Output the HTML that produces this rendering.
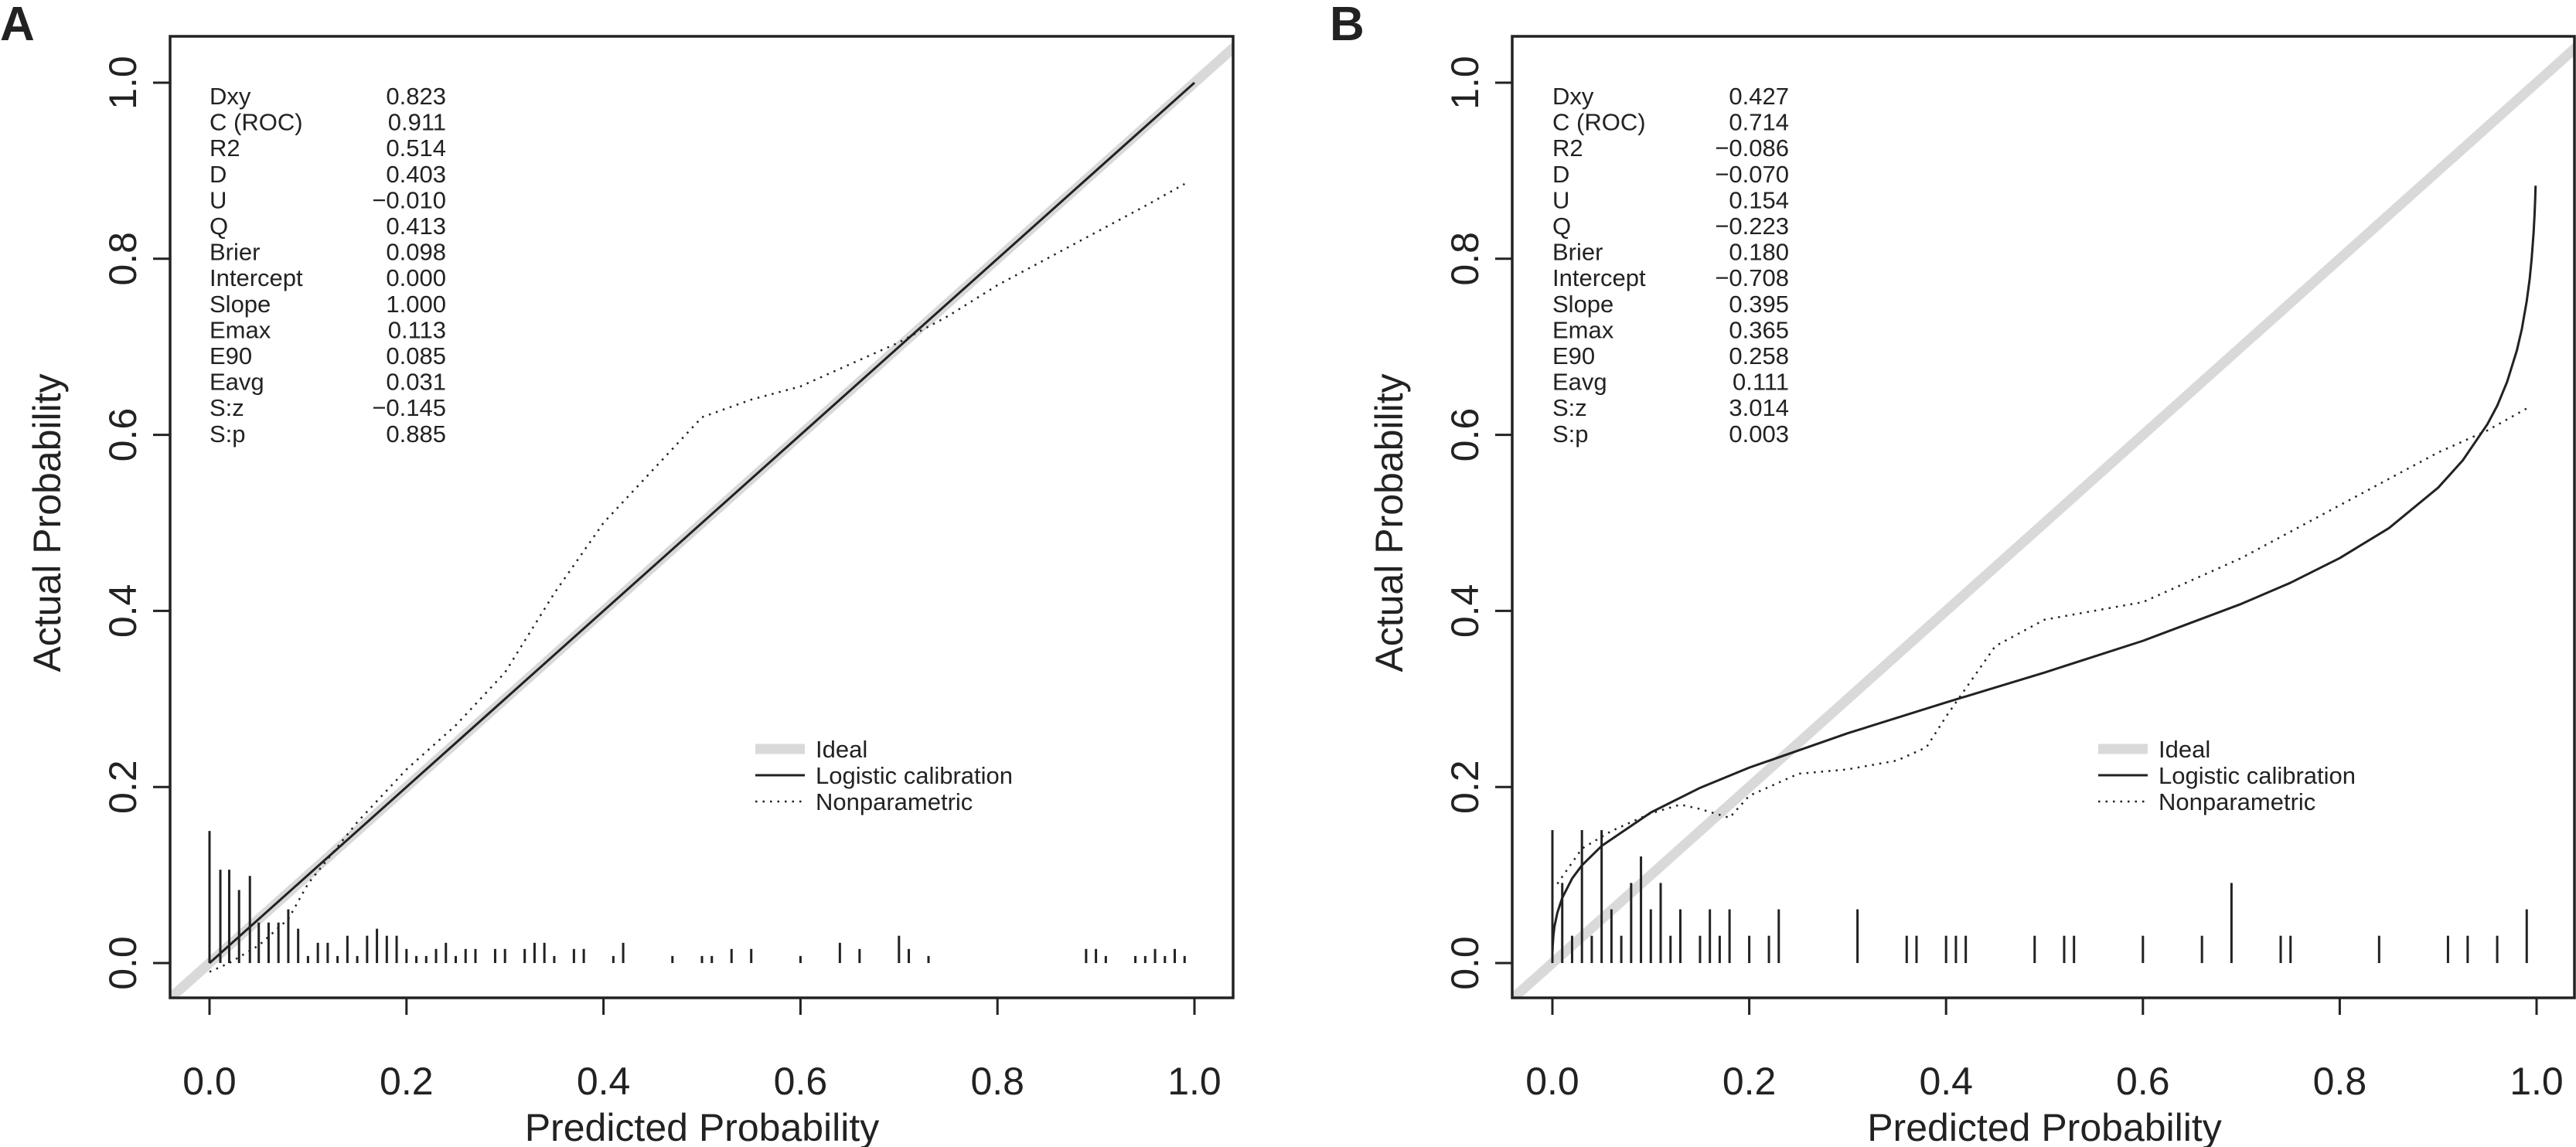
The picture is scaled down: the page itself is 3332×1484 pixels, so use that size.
<!DOCTYPE html>
<html><head><meta charset="utf-8"><style>
html,body{margin:0;padding:0;background:#fff;}
svg{display:block;font-family:"Liberation Sans",Arial,sans-serif;}
</style></head><body>
<svg id="chart" width="3332" height="1484" viewBox="0 0 3332 1484" xmlns="http://www.w3.org/2000/svg"></svg>
<script>
// ---------- Data ----------
const tickValues = [0, 0.2, 0.4, 0.6, 0.8, 1.0];
const tickLabels = ["0.0", "0.2", "0.4", "0.6", "0.8", "1.0"];
const statNames = ["Dxy","C (ROC)","R2","D","U","Q","Brier","Intercept","Slope","Emax","E90","Eavg","S:z","S:p"];
const statsA = ["0.823","0.911","0.514","0.403","\u22120.010","0.413","0.098","0.000","1.000","0.113","0.085","0.031","\u22120.145","0.885"];
const statsB = ["0.427","0.714","\u22120.086","\u22120.070","0.154","\u22120.223","0.180","\u22120.708","0.395","0.365","0.258","0.111","3.014","0.003"];
const legendLabels = ["Ideal","Logistic calibration","Nonparametric"];

const logisticAx = [0, 1];
const logisticAy = [0, 1];
const nonparAx = [0.0,0.02,0.05,0.08,0.1,0.15,0.2,0.25,0.3,0.35,0.4,0.45,0.5,0.55,0.6,0.65,0.7,0.75,0.8,0.85,0.9,0.95,0.99];
const nonparAy = [-0.01,0.0,0.02,0.05,0.09,0.16,0.22,0.27,0.33,0.42,0.5,0.56,0.62,0.64,0.655,0.68,0.705,0.735,0.77,0.80,0.83,0.86,0.885];
const spikeAx = [0,0.011,0.02,0.03,0.041,0.05,0.06,0.07,0.08,0.09,0.10,0.11,0.12,0.13,0.14,0.15,0.16,0.17,0.18,0.19,0.20,0.21,0.22,0.23,0.24,0.25,0.26,0.27,0.29,0.30,0.32,0.33,0.34,0.35,0.37,0.38,0.41,0.42,0.47,0.50,0.51,0.53,0.55,0.60,0.64,0.66,0.70,0.71,0.73,0.89,0.90,0.91,0.94,0.95,0.96,0.97,0.98,0.99];
const spikeAh = [0.15,0.106,0.106,0.083,0.099,0.046,0.046,0.046,0.061,0.039,0.008,0.023,0.023,0.008,0.031,0.008,0.031,0.039,0.031,0.031,0.016,0.008,0.008,0.016,0.023,0.008,0.016,0.016,0.016,0.016,0.016,0.023,0.023,0.008,0.016,0.016,0.008,0.023,0.008,0.008,0.008,0.016,0.016,0.008,0.023,0.016,0.031,0.016,0.008,0.016,0.016,0.008,0.008,0.008,0.016,0.008,0.016,0.008];

const logisticBx = [0.0001,0.0003,0.001,0.002,0.005,0.01,0.02,0.03,0.05,0.1,0.15,0.2,0.3,0.4,0.5,0.6,0.7,0.75,0.8,0.85,0.9,0.925,0.95,0.96,0.97,0.98,0.985,0.99,0.993,0.995,0.997,0.998,0.9985,0.999];
const logisticBy = [0.0128,0.0196,0.031,0.041,0.057,0.074,0.096,0.111,0.133,0.171,0.199,0.222,0.261,0.296,0.330,0.366,0.408,0.432,0.460,0.494,0.540,0.571,0.612,0.633,0.660,0.696,0.720,0.752,0.777,0.800,0.830,0.851,0.865,0.883];
const nonparBx = [0.005,0.03,0.06,0.1,0.13,0.15,0.18,0.2,0.25,0.3,0.35,0.38,0.4,0.45,0.5,0.55,0.6,0.65,0.7,0.75,0.8,0.85,0.9,0.95,0.99];
const nonparBy = [0.09,0.13,0.15,0.17,0.18,0.175,0.165,0.19,0.215,0.22,0.23,0.245,0.28,0.36,0.39,0.40,0.41,0.435,0.46,0.49,0.52,0.55,0.58,0.605,0.63];
const spikeBx = [0,0.01,0.02,0.03,0.04,0.05,0.06,0.07,0.08,0.09,0.10,0.11,0.12,0.13,0.15,0.16,0.17,0.18,0.20,0.22,0.23,0.31,0.36,0.37,0.40,0.41,0.42,0.49,0.52,0.53,0.60,0.66,0.69,0.74,0.75,0.84,0.91,0.93,0.96,0.99];
const spikeBh = [0.151,0.091,0.031,0.151,0.031,0.151,0.061,0.031,0.091,0.121,0.061,0.091,0.031,0.061,0.031,0.061,0.031,0.061,0.031,0.031,0.061,0.061,0.031,0.031,0.031,0.031,0.031,0.031,0.031,0.031,0.031,0.031,0.091,0.031,0.031,0.031,0.031,0.031,0.031,0.061];

// ---------- Drawing ----------
const NS = "http://www.w3.org/2000/svg";
const svg = document.getElementById("chart");
function mk(tag, attrs, parent) {
  const e = document.createElementNS(NS, tag);
  for (const k in attrs) e.setAttribute(k, attrs[k]);
  (parent || svg).appendChild(e);
  return e;
}
const INK = "#222";

function panel(cfg) {
  const g = mk("g", {});
  
  
  const sx = v => cfg.x0 + v * (cfg.x1 - cfg.x0);
  const sy = v => cfg.y0 - v * (cfg.y0 - cfg.y1);
  const clipId = "clip-" + cfg.id;
  const cp = mk("clipPath", { id: clipId }, g);
  mk("rect", { x: cfg.left, y: cfg.top, width: cfg.right - cfg.left, height: cfg.bottom - cfg.top }, cp);

  const L = mk("text", { x: cfg.letterX, y: 52, "font-size": 62, "font-weight": "bold", fill: INK }, g);
  L.textContent = cfg.letter;
  
  

  const plot = mk("g", { "clip-path": "url(#" + clipId + ")" }, g);
  const ideal = mk("line", { x1: sx(-0.1), y1: sy(-0.1), x2: sx(1.1), y2: sy(1.1), stroke: "#d9d9d9", "stroke-width": 13 }, plot);
  
  

  const sg = mk("g", {}, plot);
  
  
  cfg.spx.forEach((v, i) => {
    const s = mk("line", { x1: sx(v), x2: sx(v), y1: sy(0), y2: sy(cfg.sph[i]), stroke: INK, "stroke-width": 3 }, sg);
    
    
  });

  const lp = cfg.lx.map((v, i) => sx(v) + "," + sy(cfg.ly[i])).join(" ");
  const lo = mk("polyline", { points: lp, fill: "none", stroke: INK, "stroke-width": 3, "stroke-linejoin": "round" }, plot);
  
  
  const np = cfg.nx.map((v, i) => sx(v) + "," + sy(cfg.ny[i])).join(" ");
  const no = mk("polyline", { points: np, fill: "none", stroke: INK, "stroke-width": 2.5, "stroke-dasharray": "2.5 7", "stroke-linejoin": "round" }, plot);
  
  

  const box = mk("rect", { x: cfg.left, y: cfg.top, width: cfg.right - cfg.left, height: cfg.bottom - cfg.top, fill: "none", stroke: INK, "stroke-width": 3.5 }, g);
  
  

  tickValues.forEach((v, i) => {
    const t = mk("line", { x1: sx(v), x2: sx(v), y1: cfg.bottom, y2: cfg.bottom + 22, stroke: INK, "stroke-width": 3 }, g);
    
    
    const tx = mk("text", { x: sx(v), y: 1416, "font-size": 50, "text-anchor": "middle", fill: INK }, g);
    tx.textContent = tickLabels[i];
    
    
  });
  tickValues.forEach((v, i) => {
    const t = mk("line", { x1: cfg.left, x2: cfg.left - 22, y1: sy(v), y2: sy(v), stroke: INK, "stroke-width": 3 }, g);
    
    
    const cx = cfg.left - 62, cy = sy(v);
    const ty = mk("text", { x: cx, y: cy + 18, "font-size": 50, "text-anchor": "middle", fill: INK, transform: "rotate(-90 " + cx + " " + (cy) + ")" }, g);
    ty.textContent = tickLabels[i];
    
    
  });
  const xt = mk("text", { x: (cfg.x0 + cfg.x1) / 2, y: 1476, "font-size": 50, "text-anchor": "middle", fill: INK }, g);
  xt.textContent = "Predicted Probability";
  
  
  const ycx = cfg.left - 160, ycy = (cfg.y0 + cfg.y1) / 2;
  const yt = mk("text", { x: ycx, y: ycy + 18, "font-size": 50, "text-anchor": "middle", fill: INK, transform: "rotate(-90 " + ycx + " " + ycy + ")" }, g);
  yt.textContent = "Actual Probability";
  
  

  const st = mk("g", {}, g);
  
  
  statNames.forEach((n, i) => {
    const y = 135 + i * 33.6;
    const a = mk("text", { x: cfg.x0, y: y, "font-size": 31, fill: INK }, st);
    a.textContent = n;
    
    
    const b = mk("text", { x: cfg.x0 + 306, y: y, "font-size": 31, "text-anchor": "end", fill: INK }, st);
    b.textContent = cfg.stats[i];
    
    
  });

  const lg = mk("g", {}, g);
  
  
  const styles = [
    { stroke: "#d9d9d9", "stroke-width": 13 },
    { stroke: INK, "stroke-width": 3 },
    { stroke: INK, "stroke-width": 2.5, "stroke-dasharray": "2.5 7" }
  ];
  legendLabels.forEach((lab, i) => {
    const y = 969 + i * 34;
    const s = Object.assign({ x1: cfg.legX, x2: cfg.legX + 64, y1: y, y2: y }, styles[i]);
    const ln = mk("line", s, lg);
    
    
    const tx = mk("text", { x: cfg.legX + 78, y: y + 11, "font-size": 31, fill: INK }, lg);
    tx.textContent = lab;
    
    
  });
}

panel({ id: "a", letter: "A", letterX: 0, left: 220, right: 1595, top: 47, bottom: 1291,
  x0: 271, x1: 1545, y0: 1246, y1: 107, stats: statsA, legX: 977,
  lx: logisticAx, ly: logisticAy, nx: nonparAx, ny: nonparAy, spx: spikeAx, sph: spikeAh });
panel({ id: "b", letter: "B", letterX: 1720, left: 1956, right: 3330, top: 47, bottom: 1291,
  x0: 2008, x1: 3281, y0: 1246, y1: 107, stats: statsB, legX: 2714,
  lx: logisticBx, ly: logisticBy, nx: nonparBx, ny: nonparBy, spx: spikeBx, sph: spikeBh });
</script>
</body></html>
